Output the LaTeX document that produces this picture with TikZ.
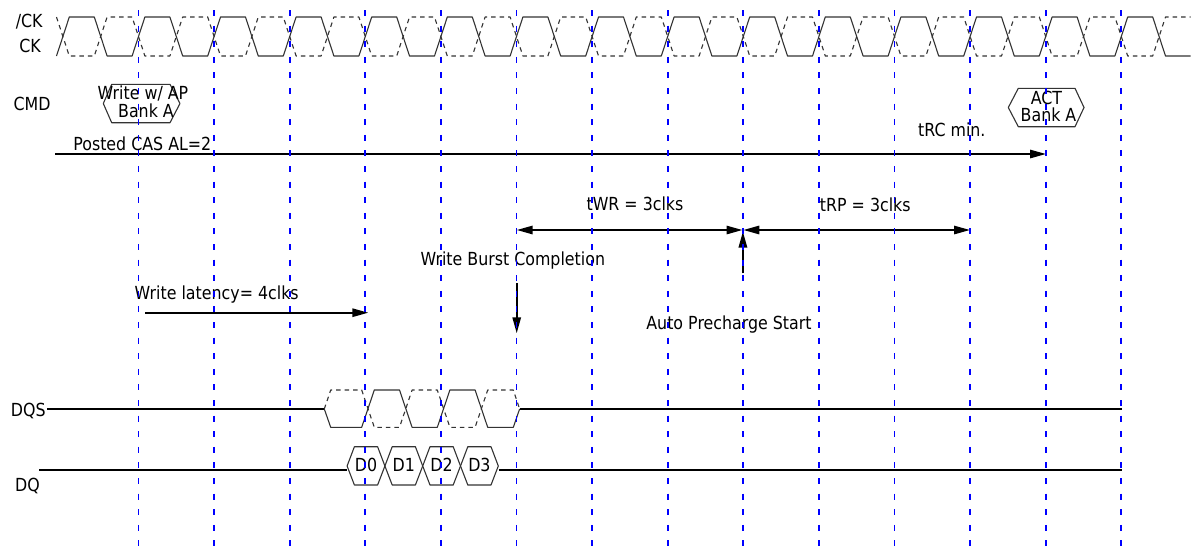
\documentclass[tikz,border=0pt]{standalone}
\usepackage{fontspec}
\setmainfont[FakeStretch=0.88]{DejaVu Sans}
\usetikzlibrary{arrows.meta}

\begin{document}
\begin{tikzpicture}[
  x=1pt,
  y=-1pt,
  line join=round,
  font=\fontsize{18}{20}\selectfont,
  >={Triangle[length=16pt,width=8.3pt]},
  wave/.style={black!80,line width=1.1pt},
  wavedash/.style={wave,dash pattern=on 4.5pt off 4pt},
  sig/.style={black,line width=2pt},
  arr/.style={black,line width=2pt},
  tight/.style={anchor=base,inner sep=0pt,text height=12.8pt,text depth=0pt},
  clkgrid/.style={blue,line width=1.8pt,dash pattern=on 6pt off 9.6pt}
]
  \useasboundingbox (0,0) rectangle (1194,547);

  % Подписи сигналов
  \node[anchor=base] (nck) at (29.2,27) {/CK};
  \node[anchor=base] (ck) at (30,52) {CK};
  \node[anchor=base] (cmd) at (32,110) {CMD};
  \node[anchor=base] (dqs) at (28.3,416.5) {DQS};
  \node[anchor=base] (dq) at (27.5,491.5) {DQ};

  % CK (сплошная) и /CK (штрихи)
  \draw[wave]
    (56.5,56)
    \foreach \k in {0,...,14}{
      -- ({62.9+75.6*\k+6.4},17) -- ({100.7+75.6*\k-6.4},17)
      -- ({100.7+75.6*\k+6.4},56) -- ({138.5+75.6*\k-6.4},56)
    };

  \draw[wavedash]
    (56.5,17)
    \foreach \k in {0,...,14}{
      -- ({62.9+75.6*\k+6.4},56) -- ({100.7+75.6*\k-6.4},56)
      -- ({100.7+75.6*\k+6.4},17) -- ({138.5+75.6*\k-6.4},17)
    };

  % Команды
  \draw[wave]
    (103.3,103.5) -- (111.7,84.3) -- (170,84.3)
    -- (180,103.5) -- (170,122.7) -- (111.7,122.7) -- cycle;
  \node[tight] (wrcmd) at (143,99.8) {Write w/ AP};
  \node[tight] (wrbank) at (146,117) {Bank A};

  \draw[wave]
    (1008.3,107.5) -- (1018.3,88.3) -- (1075,88.3)
    -- (1084,107.5) -- (1075,126.7) -- (1018.3,126.7) -- cycle;
  \node[tight] (act) at (1046.5,104.2) {ACT};
  \node[tight] (actbank) at (1048.5,121) {Bank A};

  % Posted CAS и tRC
  \coordinate (casA) at (55,154);
  \coordinate (casB) at (1046,154);
  \draw[arr,->] (casA) -- (casB);
  \node[anchor=base] (cas) at (142.3,150) {Posted CAS AL=2};
  \node[anchor=base] (trc) at (951.8,136) {tRC min.};

  % tWR и tRP
  \coordinate (wrA) at (516.7,230);
  \coordinate (wrB) at (742.5,230);
  \coordinate (rpA) at (743.3,230);
  \coordinate (rpB) at (970,230);
  \draw[arr,<->] (wrA) -- (wrB);
  \draw[arr,<->] (rpA) -- (rpB);
  \node[anchor=base] (twr) at (635,210.5) {tWR = 3clks};
  \node[anchor=base] (trp) at (865.3,211) {tRP = 3clks};

  % Auto Precharge
  \coordinate (apA) at (742.9,273.3);
  \coordinate (apB) at (742.9,231.5);
  \draw[arr,->] (apA) -- (apB);
  \node[anchor=base] (apre) at (729,329.3) {Auto Precharge Start};

  % Write Burst Completion
  \node[anchor=base] (wbc) at (512.8,265) {Write Burst Completion};
  \coordinate (wbA) at (516.7,283.3);
  \coordinate (wbB) at (516.7,333.3);
  \draw[arr,->] (wbA) -- (wbB);

  % Write latency
  \node[anchor=base] (wlat) at (216.7,299.3) {Write latency= 4clks};
  \coordinate (wlA) at (145,312.7);
  \coordinate (wlB) at (368.3,312.7);
  \draw[arr,->] (wlA) -- (wlB);

  % DQS
  \coordinate (dqsL) at (47,409);
  \coordinate (dqsA) at (324.3,409);
  \coordinate (dqsB) at (519.6,409);
  \coordinate (dqsR) at (1122,409);
  \draw[sig] (dqsL) -- (dqsA);
  \draw[sig] (dqsB) -- (dqsR);

  \draw[wave]
    (dqsA) -- (330.7,427.3) -- (361.7,427.3)
    -- (374.3,390) -- (399.5,390) -- (412.1,427.3)
    -- (437.3,427.3) -- (449.9,390) -- (475.1,390)
    -- (487.7,427.3) -- (513.3,427.3) -- (dqsB);

  \draw[wavedash]
    (dqsA) -- (330.7,390) -- (361.7,390)
    -- (374.3,427.3) -- (399.5,427.3) -- (412.1,390)
    -- (437.3,390) -- (449.9,427.3) -- (475.1,427.3)
    -- (487.7,390) -- (513.3,390) -- (dqsB);

  % DQ
  \coordinate (dqL) at (39,469.5);
  \coordinate (dqA) at (346.5,469.5);
  \coordinate (dqB) at (498.5,469.5);
  \coordinate (dqR) at (1122,469.5);
  \draw[sig] (dqL) -- (dqA);
  \draw[sig] (dqB) -- (dqR);

  \foreach \i in {0,...,3}{
    \pgfmathsetmacro\c{366+37.8*\i}
    \draw[wave]
      ({\c-18.9},466) -- ({\c-11.6},446.7) -- ({\c+11.6},446.7)
      -- ({\c+18.9},466) -- ({\c+11.6},485) -- ({\c-11.6},485) -- cycle;
    \node[anchor=base] (d\i) at (\c,471) {D\i};
  }

  % Сетка тактов
  \foreach \k in {0,...,13}
    \draw[clkgrid] ({138.5+75.6*\k},10) -- ({138.5+75.6*\k},547);
\end{tikzpicture}
\end{document}
